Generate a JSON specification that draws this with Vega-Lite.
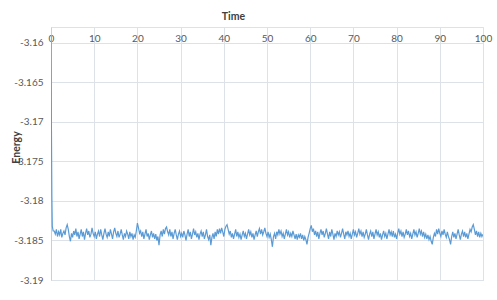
{
  "$schema": "https://vega.github.io/schema/vega-lite/v6.json",
  "autosize": "none",
  "width": 432,
  "height": 253,
  "padding": {"left": 51, "top": 27, "right": 14, "bottom": 20},
  "background": "#ffffff",
  "config": {
    "view": {"stroke": "#dde1e8", "strokeWidth": 1},
    "font": "Lato",
    "axis": {
      "labelFont": "Lato",
      "titleFont": "Lato",
      "labelColor": "#595959",
      "titleColor": "#404040",
      "gridColor": "#dde1e8",
      "gridWidth": 1,
      "domain": false,
      "ticks": false,
      "labelFontSize": 10,
      "titleFontSize": 10.5,
      "titleFontWeight": "bold"
    }
  },
  "data": {"values": [
    {"t":0,"e":-3.159},{"t":0.1,"e":-3.171},{"t":0.2,"e":-3.1795},{"t":0.3,"e":-3.1832},{"t":0.5,"e":-3.1838},
    {"t":0.75,"e":-3.1838},{"t":1.0,"e":-3.1842},{"t":1.25,"e":-3.1836},{"t":1.5,"e":-3.1845},{"t":1.75,"e":-3.1839},{"t":2.0,"e":-3.1843},{"t":2.25,"e":-3.1836},{"t":2.5,"e":-3.1846},{"t":2.75,"e":-3.1841},{"t":3.0,"e":-3.1838},
    {"t":3.25,"e":-3.1843},{"t":3.5,"e":-3.1834},{"t":3.75,"e":-3.1830},{"t":4.0,"e":-3.1836},{"t":4.25,"e":-3.1845},{"t":4.5,"e":-3.1851},{"t":4.75,"e":-3.1841},{"t":5.0,"e":-3.1846},{"t":5.25,"e":-3.1838},{"t":5.5,"e":-3.1843},
    {"t":5.75,"e":-3.1835},{"t":6.0,"e":-3.1845},{"t":6.25,"e":-3.1839},{"t":6.5,"e":-3.1848},{"t":6.75,"e":-3.1842},{"t":7.0,"e":-3.1836},{"t":7.25,"e":-3.1845},{"t":7.5,"e":-3.1839},{"t":7.75,"e":-3.1849},{"t":8.0,"e":-3.1841},
    {"t":8.25,"e":-3.1835},{"t":8.5,"e":-3.1843},{"t":8.75,"e":-3.1838},{"t":9.0,"e":-3.1846},{"t":9.25,"e":-3.1842},{"t":9.5,"e":-3.1834},{"t":9.75,"e":-3.1841},{"t":10.0,"e":-3.1845},
    {"t":10.25,"e":-3.1839},{"t":10.5,"e":-3.1848},{"t":10.75,"e":-3.1842},{"t":11.0,"e":-3.1838},{"t":11.25,"e":-3.1845},{"t":11.5,"e":-3.1836},{"t":11.75,"e":-3.1843},{"t":12.0,"e":-3.1849},{"t":12.25,"e":-3.1841},{"t":12.5,"e":-3.1835},
    {"t":12.75,"e":-3.1842},{"t":13.0,"e":-3.1846},{"t":13.25,"e":-3.1839},{"t":13.5,"e":-3.1845},{"t":13.75,"e":-3.1836},{"t":14.0,"e":-3.1842},{"t":14.25,"e":-3.1848},{"t":14.5,"e":-3.1839},{"t":14.75,"e":-3.1834},{"t":15.0,"e":-3.1841},
    {"t":15.25,"e":-3.1845},{"t":15.5,"e":-3.1838},{"t":15.75,"e":-3.1846},{"t":16.0,"e":-3.1842},{"t":16.25,"e":-3.1836},{"t":16.5,"e":-3.1843},{"t":16.75,"e":-3.1849},{"t":17.0,"e":-3.1841},{"t":17.25,"e":-3.1845},{"t":17.5,"e":-3.1838},
    {"t":17.75,"e":-3.1842},{"t":18.0,"e":-3.1848},{"t":18.25,"e":-3.1839},{"t":18.5,"e":-3.1845},{"t":18.75,"e":-3.1841},{"t":19.0,"e":-3.1849},{"t":19.25,"e":-3.1843},{"t":19.5,"e":-3.1846},{"t":19.75,"e":-3.1838},{"t":20.0,"e":-3.1828},
    {"t":20.25,"e":-3.1834},{"t":20.5,"e":-3.1841},{"t":20.75,"e":-3.1838},{"t":21.0,"e":-3.1845},{"t":21.25,"e":-3.1839},{"t":21.5,"e":-3.1848},{"t":21.75,"e":-3.1842},{"t":22.0,"e":-3.1836},{"t":22.25,"e":-3.1845},{"t":22.5,"e":-3.1841},
    {"t":22.75,"e":-3.1849},{"t":23.0,"e":-3.1843},{"t":23.25,"e":-3.1838},{"t":23.5,"e":-3.1846},{"t":23.75,"e":-3.1841},{"t":24.0,"e":-3.1848},{"t":24.25,"e":-3.1842},{"t":24.5,"e":-3.1850},{"t":24.75,"e":-3.1845},{"t":25.0,"e":-3.1856},
    {"t":25.25,"e":-3.1843},{"t":25.5,"e":-3.1838},{"t":25.75,"e":-3.1845},{"t":26.0,"e":-3.1836},{"t":26.25,"e":-3.1842},{"t":26.5,"e":-3.1835},{"t":26.75,"e":-3.1833},{"t":27.0,"e":-3.1839},{"t":27.25,"e":-3.1843},{"t":27.5,"e":-3.1836},
    {"t":27.75,"e":-3.1845},{"t":28.0,"e":-3.1839},{"t":28.25,"e":-3.1848},{"t":28.5,"e":-3.1841},{"t":28.75,"e":-3.1836},{"t":29.0,"e":-3.1843},{"t":29.25,"e":-3.1849},{"t":29.5,"e":-3.1842},{"t":29.75,"e":-3.1838},{"t":30.0,"e":-3.1845},
    {"t":30.25,"e":-3.1841},{"t":30.5,"e":-3.1846},{"t":30.75,"e":-3.1838},{"t":31.0,"e":-3.1843},{"t":31.25,"e":-3.1850},{"t":31.5,"e":-3.1842},{"t":31.75,"e":-3.1836},{"t":32.0,"e":-3.1845},{"t":32.25,"e":-3.1839},{"t":32.5,"e":-3.1848},
    {"t":32.75,"e":-3.1842},{"t":33.0,"e":-3.1835},{"t":33.25,"e":-3.1843},{"t":33.5,"e":-3.1839},{"t":33.75,"e":-3.1846},{"t":34.0,"e":-3.1841},{"t":34.25,"e":-3.1849},{"t":34.5,"e":-3.1842},{"t":34.75,"e":-3.1838},{"t":35.0,"e":-3.1845},
    {"t":35.25,"e":-3.1839},{"t":35.5,"e":-3.1848},{"t":35.75,"e":-3.1843},{"t":36.0,"e":-3.1836},{"t":36.25,"e":-3.1845},{"t":36.5,"e":-3.1849},{"t":36.75,"e":-3.1843},{"t":37.0,"e":-3.1856},{"t":37.25,"e":-3.1846},{"t":37.5,"e":-3.1841},
    {"t":37.75,"e":-3.1848},{"t":38.0,"e":-3.1839},{"t":38.25,"e":-3.1845},{"t":38.5,"e":-3.1836},{"t":38.75,"e":-3.1842},{"t":39.0,"e":-3.1835},{"t":39.25,"e":-3.1841},{"t":39.5,"e":-3.1834},{"t":39.75,"e":-3.1839},{"t":40.0,"e":-3.1845},
    {"t":40.25,"e":-3.1836},{"t":40.5,"e":-3.1832},{"t":40.75,"e":-3.1830},{"t":41.0,"e":-3.1836},{"t":41.25,"e":-3.1842},{"t":41.5,"e":-3.1838},{"t":41.75,"e":-3.1846},{"t":42.0,"e":-3.1841},{"t":42.25,"e":-3.1848},{"t":42.5,"e":-3.1842},
    {"t":42.75,"e":-3.1836},{"t":43.0,"e":-3.1845},{"t":43.25,"e":-3.1839},{"t":43.5,"e":-3.1846},{"t":43.75,"e":-3.1842},{"t":44.0,"e":-3.1849},{"t":44.25,"e":-3.1843},{"t":44.5,"e":-3.1838},{"t":44.75,"e":-3.1845},{"t":45.0,"e":-3.1841},
    {"t":45.25,"e":-3.1848},{"t":45.5,"e":-3.1842},{"t":45.75,"e":-3.1836},{"t":46.0,"e":-3.1843},{"t":46.25,"e":-3.1839},{"t":46.5,"e":-3.1846},{"t":46.75,"e":-3.1841},{"t":47.0,"e":-3.1849},{"t":47.25,"e":-3.1843},{"t":47.5,"e":-3.1838},
    {"t":47.75,"e":-3.1845},{"t":48.0,"e":-3.1839},{"t":48.25,"e":-3.1835},{"t":48.5,"e":-3.1842},{"t":48.75,"e":-3.1836},{"t":49.0,"e":-3.1843},{"t":49.25,"e":-3.1839},{"t":49.5,"e":-3.1834},{"t":49.75,"e":-3.1841},{"t":50.0,"e":-3.1845},
    {"t":50.25,"e":-3.1839},{"t":50.5,"e":-3.1846},{"t":50.75,"e":-3.1842},{"t":51.0,"e":-3.1849},{"t":51.25,"e":-3.1858},{"t":51.5,"e":-3.1845},{"t":51.75,"e":-3.1841},{"t":52.0,"e":-3.1848},{"t":52.25,"e":-3.1839},{"t":52.5,"e":-3.1843},
    {"t":52.75,"e":-3.1836},{"t":53.0,"e":-3.1842},{"t":53.25,"e":-3.1838},{"t":53.5,"e":-3.1845},{"t":53.75,"e":-3.1841},{"t":54.0,"e":-3.1848},{"t":54.25,"e":-3.1842},{"t":54.5,"e":-3.1836},{"t":54.75,"e":-3.1843},{"t":55.0,"e":-3.1839},
    {"t":55.25,"e":-3.1846},{"t":55.5,"e":-3.1841},{"t":55.75,"e":-3.1845},{"t":56.0,"e":-3.1838},{"t":56.25,"e":-3.1843},{"t":56.5,"e":-3.1848},{"t":56.75,"e":-3.1842},{"t":57.0,"e":-3.1849},{"t":57.25,"e":-3.1843},{"t":57.5,"e":-3.1846},
    {"t":57.75,"e":-3.1841},{"t":58.0,"e":-3.1848},{"t":58.25,"e":-3.1843},{"t":58.5,"e":-3.1850},{"t":58.75,"e":-3.1845},{"t":59.0,"e":-3.1849},{"t":59.25,"e":-3.1855},{"t":59.5,"e":-3.1846},{"t":59.75,"e":-3.1841},{"t":60.0,"e":-3.1835},
    {"t":60.25,"e":-3.1831},{"t":60.5,"e":-3.1839},{"t":60.75,"e":-3.1835},{"t":61.0,"e":-3.1843},{"t":61.25,"e":-3.1838},{"t":61.5,"e":-3.1845},{"t":61.75,"e":-3.1839},{"t":62.0,"e":-3.1848},{"t":62.25,"e":-3.1841},{"t":62.5,"e":-3.1836},
    {"t":62.75,"e":-3.1843},{"t":63.0,"e":-3.1838},{"t":63.25,"e":-3.1846},{"t":63.5,"e":-3.1841},{"t":63.75,"e":-3.1835},{"t":64.0,"e":-3.1842},{"t":64.25,"e":-3.1848},{"t":64.5,"e":-3.1839},{"t":64.75,"e":-3.1845},{"t":65.0,"e":-3.1836},
    {"t":65.25,"e":-3.1842},{"t":65.5,"e":-3.1849},{"t":65.75,"e":-3.1841},{"t":66.0,"e":-3.1845},{"t":66.25,"e":-3.1838},{"t":66.5,"e":-3.1843},{"t":66.75,"e":-3.1839},{"t":67.0,"e":-3.1846},{"t":67.25,"e":-3.1841},{"t":67.5,"e":-3.1835},
    {"t":67.75,"e":-3.1842},{"t":68.0,"e":-3.1848},{"t":68.25,"e":-3.1839},{"t":68.5,"e":-3.1843},{"t":68.75,"e":-3.1838},{"t":69.0,"e":-3.1845},{"t":69.25,"e":-3.1841},{"t":69.5,"e":-3.1848},{"t":69.75,"e":-3.1842},{"t":70.0,"e":-3.1836},
    {"t":70.25,"e":-3.1843},{"t":70.5,"e":-3.1839},{"t":70.75,"e":-3.1846},{"t":71.0,"e":-3.1841},{"t":71.25,"e":-3.1835},{"t":71.5,"e":-3.1842},{"t":71.75,"e":-3.1838},{"t":72.0,"e":-3.1845},{"t":72.25,"e":-3.1839},{"t":72.5,"e":-3.1846},
    {"t":72.75,"e":-3.1842},{"t":73.0,"e":-3.1836},{"t":73.25,"e":-3.1843},{"t":73.5,"e":-3.1849},{"t":73.75,"e":-3.1842},{"t":74.0,"e":-3.1838},{"t":74.25,"e":-3.1845},{"t":74.5,"e":-3.1839},{"t":74.75,"e":-3.1848},{"t":75.0,"e":-3.1842},
    {"t":75.25,"e":-3.1836},{"t":75.5,"e":-3.1843},{"t":75.75,"e":-3.1839},{"t":76.0,"e":-3.1846},{"t":76.25,"e":-3.1841},{"t":76.5,"e":-3.1849},{"t":76.75,"e":-3.1843},{"t":77.0,"e":-3.1838},{"t":77.25,"e":-3.1845},{"t":77.5,"e":-3.1841},
    {"t":77.75,"e":-3.1848},{"t":78.0,"e":-3.1842},{"t":78.25,"e":-3.1836},{"t":78.5,"e":-3.1843},{"t":78.75,"e":-3.1839},{"t":79.0,"e":-3.1845},{"t":79.25,"e":-3.1838},{"t":79.5,"e":-3.1846},{"t":79.75,"e":-3.1842},{"t":80.0,"e":-3.1848},
    {"t":80.25,"e":-3.1841},{"t":80.5,"e":-3.1835},{"t":80.75,"e":-3.1842},{"t":81.0,"e":-3.1838},{"t":81.25,"e":-3.1845},{"t":81.5,"e":-3.1839},{"t":81.75,"e":-3.1846},{"t":82.0,"e":-3.1842},{"t":82.25,"e":-3.1836},{"t":82.5,"e":-3.1843},
    {"t":82.75,"e":-3.1838},{"t":83.0,"e":-3.1845},{"t":83.25,"e":-3.1841},{"t":83.5,"e":-3.1848},{"t":83.75,"e":-3.1842},{"t":84.0,"e":-3.1836},{"t":84.25,"e":-3.1843},{"t":84.5,"e":-3.1839},{"t":84.75,"e":-3.1846},{"t":85.0,"e":-3.1841},
    {"t":85.25,"e":-3.1835},{"t":85.5,"e":-3.1842},{"t":85.75,"e":-3.1838},{"t":86.0,"e":-3.1845},{"t":86.25,"e":-3.1839},{"t":86.5,"e":-3.1846},{"t":86.75,"e":-3.1842},{"t":87.0,"e":-3.1848},{"t":87.25,"e":-3.1843},{"t":87.5,"e":-3.1849},
    {"t":87.75,"e":-3.1845},{"t":88.0,"e":-3.1851},{"t":88.25,"e":-3.1855},{"t":88.5,"e":-3.1846},{"t":88.75,"e":-3.1841},{"t":89.0,"e":-3.1845},{"t":89.25,"e":-3.1836},{"t":89.5,"e":-3.1842},{"t":89.75,"e":-3.1835},{"t":90.0,"e":-3.1841},
    {"t":90.25,"e":-3.1845},{"t":90.5,"e":-3.1838},{"t":90.75,"e":-3.1843},{"t":91.0,"e":-3.1836},{"t":91.25,"e":-3.1842},{"t":91.5,"e":-3.1846},{"t":91.75,"e":-3.1839},{"t":92.0,"e":-3.1845},{"t":92.25,"e":-3.1849},{"t":92.5,"e":-3.1855},
    {"t":92.75,"e":-3.1845},{"t":93.0,"e":-3.1839},{"t":93.25,"e":-3.1846},{"t":93.5,"e":-3.1841},{"t":93.75,"e":-3.1848},{"t":94.0,"e":-3.1842},{"t":94.25,"e":-3.1836},{"t":94.5,"e":-3.1843},{"t":94.75,"e":-3.1849},{"t":95.0,"e":-3.1842},
    {"t":95.25,"e":-3.1838},{"t":95.5,"e":-3.1845},{"t":95.75,"e":-3.1839},{"t":96.0,"e":-3.1846},{"t":96.25,"e":-3.1841},{"t":96.5,"e":-3.1848},{"t":96.75,"e":-3.1842},{"t":97.0,"e":-3.1836},{"t":97.25,"e":-3.1839},{"t":97.5,"e":-3.1833},
    {"t":97.75,"e":-3.1830},{"t":98.0,"e":-3.1836},{"t":98.25,"e":-3.1843},{"t":98.5,"e":-3.1838},{"t":98.75,"e":-3.1845},{"t":99.0,"e":-3.1839},{"t":99.25,"e":-3.1846},{"t":99.5,"e":-3.1841},{"t":99.75,"e":-3.1845},{"t":100.0,"e":-3.1842}
  ]},
  "mark": {"type": "line", "color": "#5b9bd5", "strokeWidth": 1.2, "clip": true},
  "encoding": {
    "x": {
      "field": "t",
      "type": "quantitative",
      "scale": {"domain": [0, 100], "nice": false, "zero": false},
      "axis": {
        "orient": "top",
        "title": "Time",
        "values": [0, 10, 20, 30, 40, 50, 60, 70, 80, 90, 100],
        "labelPadding": -11,
        "labelBaseline": "middle",
        "labelFlush": false,
        "titleX": 182,
        "titleY": -11,
        "titleAnchor": "middle",
        "titleAlign": "center",
        "titleBaseline": "middle"
      }
    },
    "y": {
      "field": "e",
      "type": "quantitative",
      "scale": {"domain": [-3.19, -3.158], "nice": false, "zero": false},
      "axis": {
        "title": "Energy",
        "values": [-3.19, -3.185, -3.18, -3.175, -3.17, -3.165, -3.16],
        "labelExpr": "'' + datum.value",
        "labelPadding": 8,
        "domain": true,
        "domainColor": "#c9ced8",
        "titleX": -35,
        "titleY": 120,
        "titleAngle": -90,
        "titleAlign": "center",
        "titleBaseline": "middle"
      }
    }
  }
}
